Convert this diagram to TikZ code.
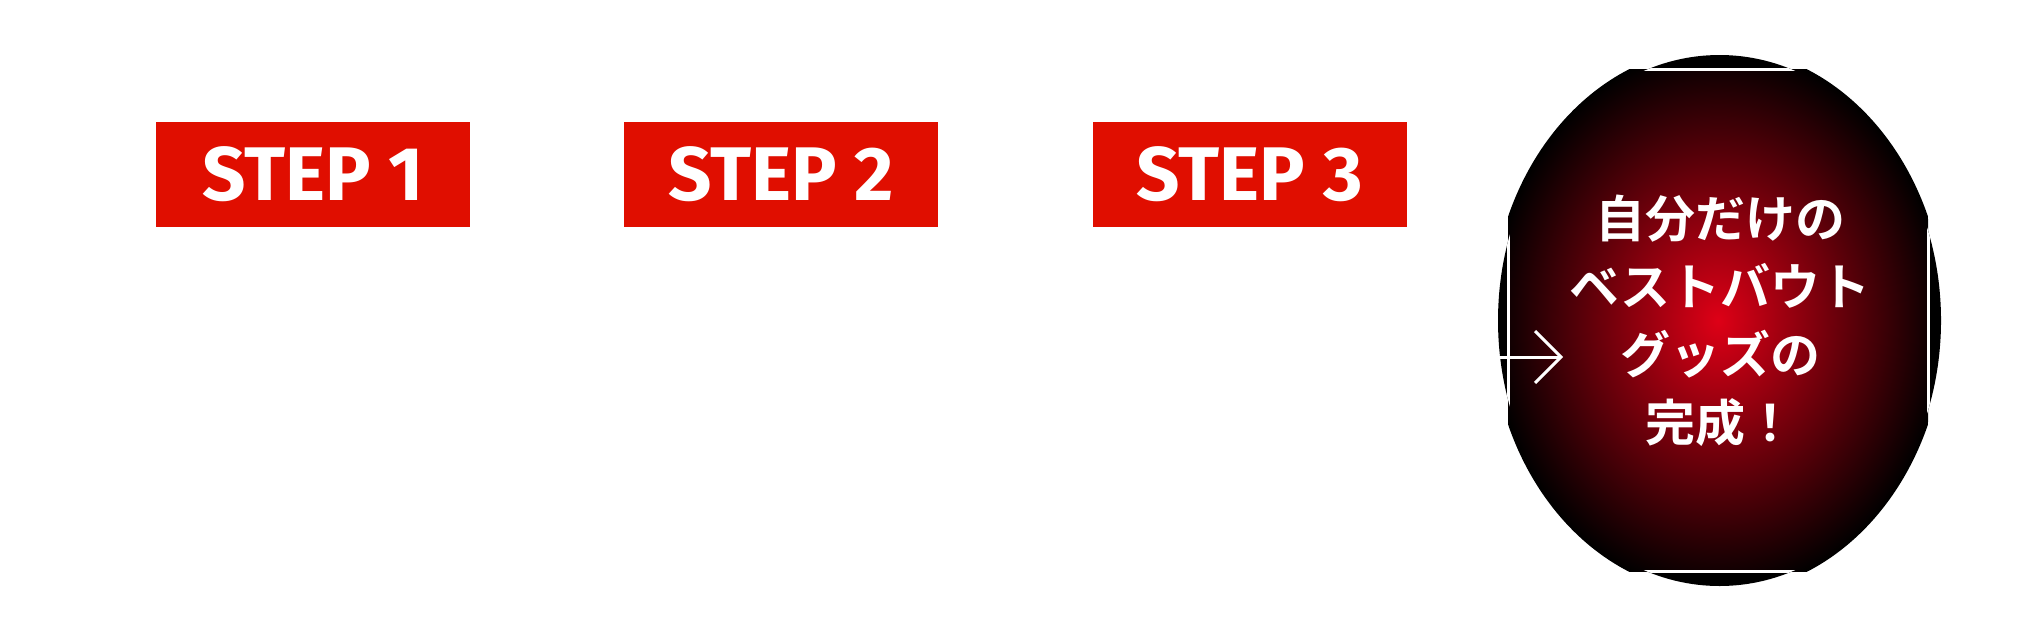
\documentclass[tikz,border=0pt]{standalone}
\usepackage{fontspec}
\setmainfont{Fira Sans}
\newfontfamily\jpfont{Noto Sans CJK JP}[BoldFont={* Bold}]
\usetikzlibrary{positioning}
\definecolor{stepred}{RGB}{224,14,0}
\definecolor{glowred}{RGB}{222,0,22}

\begin{document}
\begin{tikzpicture}[x=0.5pt,y=-0.5pt,
	stepbox/.style={fill=stepred,text=white,minimum width=157pt,minimum height=52.5pt,inner sep=0pt,font=\fontsize{38}{38}\selectfont\bfseries},
	goal/.style={text=white,align=center,font=\jpfont\bfseries\fontsize{25}{34}\selectfont}]
	\useasboundingbox (0,0) rectangle (2043,643);

	\node[stepbox] (s1) at (313,174.5) {STEP 1};
	\node[stepbox] (s2) at (781,174.5) {STEP 2};
	\node[stepbox] (s3) at (1249.5,174.5) {STEP 3};

	% the goal disc
	\fill[black] (1719.5,320.5) ellipse [x radius=221.5,y radius=265.5];
	\begin{scope}
		\clip (1508,69) rectangle (1928,571);
		\shade[inner color=glowred,outer color=black] (1718,320.5) ellipse [x radius=227,y radius=273];
	\end{scope}
	\begin{scope}
		\clip (1719.5,320.5) ellipse [x radius=221.5,y radius=265.5];
		\draw[white,line width=1.5pt] (1508,69) rectangle (1928,571);
	\end{scope}
	\coordinate (a0) at (1498,357);
	\coordinate (a1) at (1561,357);
	\draw[white,line width=1.5pt] (a0) -- (a1);
	\draw[white,line width=1.5pt] (1535,331) -- (a1) -- (1535,383);

	\node[goal] (txt) at (1720,321) {自分だけの\\ベストバウト\\グッズの\\完成！};
\end{tikzpicture}
\end{document}
